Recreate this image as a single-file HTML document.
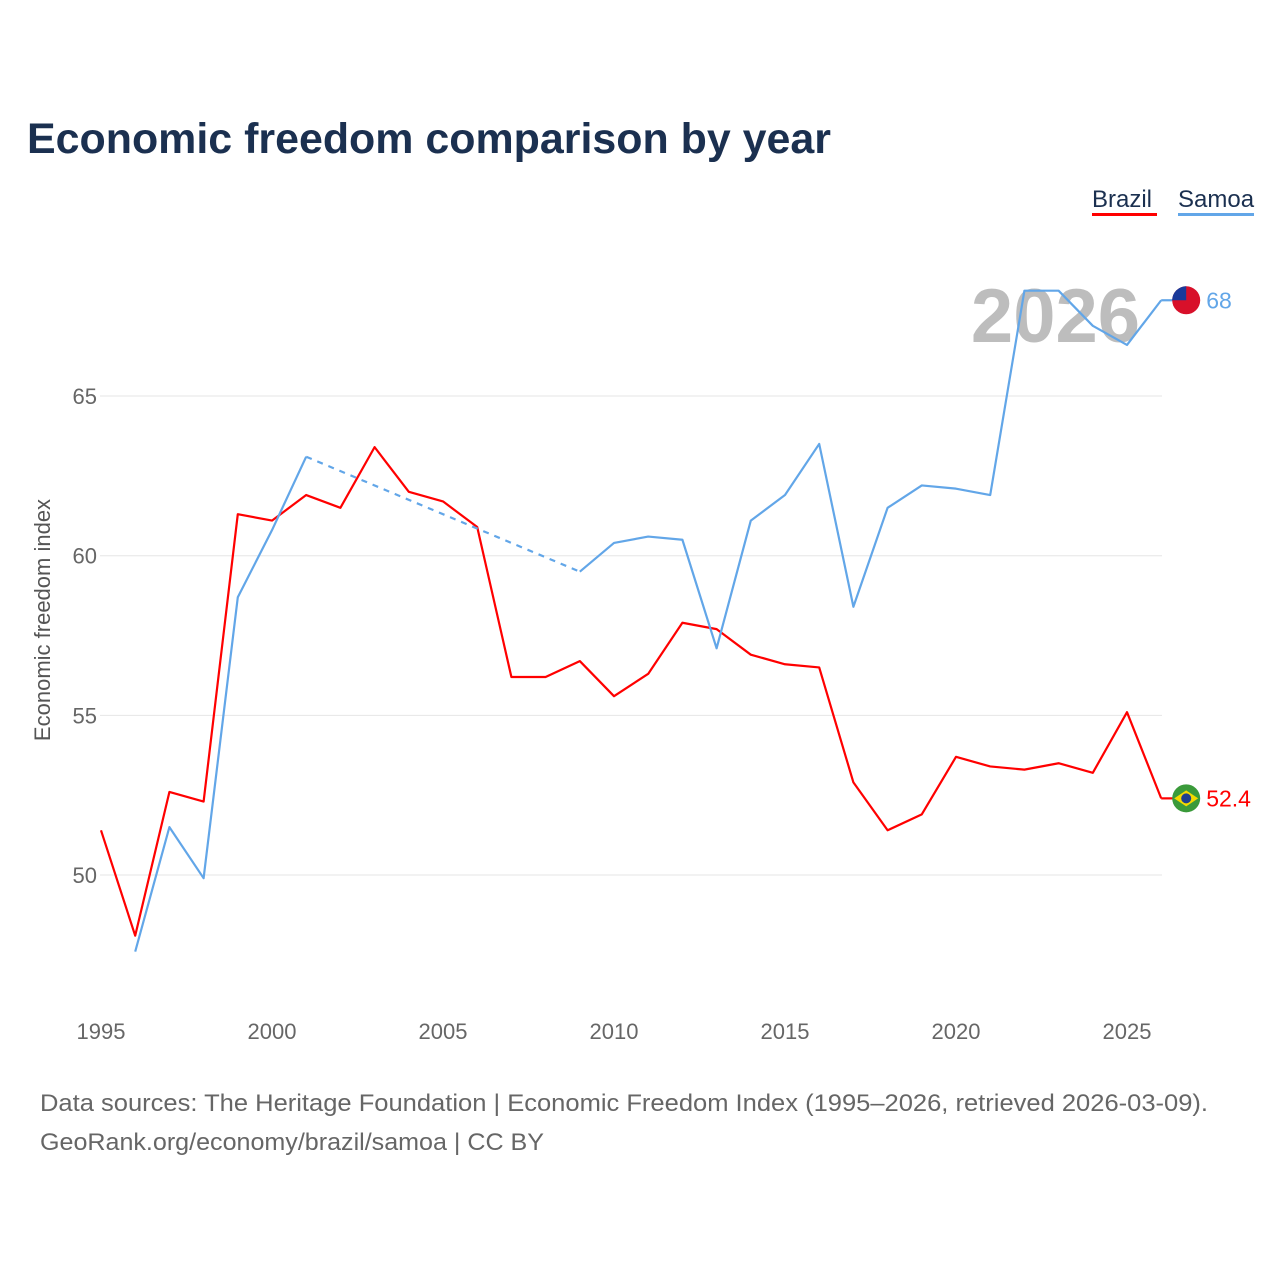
<!DOCTYPE html>
<html><head><meta charset="utf-8"><style>
body{margin:0;background:#fff;font-family:"Liberation Sans",sans-serif;}
</style></head><body>
<svg width="1280" height="1280" xmlns="http://www.w3.org/2000/svg" font-family="Liberation Sans, sans-serif">
<text x="27" y="153" font-size="43" font-weight="bold" fill="#1b3050" textLength="804" lengthAdjust="spacingAndGlyphs">Economic freedom comparison by year</text>
<g>
<text x="1092" y="207" font-size="24" fill="#1b3050">Brazil</text>
<rect x="1092" y="213" width="65" height="3" fill="#ff0000"/>
<text x="1178" y="207" font-size="24" fill="#1b3050">Samoa</text>
<rect x="1178" y="213" width="76" height="3" fill="#62a6e8"/>
</g>
<text x="1140" y="342" font-size="76" font-weight="bold" fill="#bdbdbd" text-anchor="end">2026</text>
<text transform="translate(50,620) rotate(-90)" font-size="22" fill="#555" text-anchor="middle">Economic freedom index</text>
<g id="grid"></g><g id="xt"></g><g id="lines"></g>
<text x="40" y="1111" font-size="24" fill="#666" textLength="1168" lengthAdjust="spacingAndGlyphs">Data sources: The Heritage Foundation | Economic Freedom Index (1995–2026, retrieved 2026-03-09).</text>
<text x="40" y="1150" font-size="24" fill="#666" textLength="504" lengthAdjust="spacingAndGlyphs">GeoRank.org/economy/brazil/samoa | CC BY</text>
</svg>
<script>
const years=[1995,1996,1997,1998,1999,2000,2001,2002,2003,2004,2005,2006,2007,2008,2009,2010,2011,2012,2013,2014,2015,2016,2017,2018,2019,2020,2021,2022,2023,2024,2025,2026];
const brazil=[51.4,48.1,52.6,52.3,61.3,61.1,61.9,61.5,63.4,62.0,61.7,60.9,56.2,56.2,56.7,55.6,56.3,57.9,57.7,56.9,56.6,56.5,52.9,51.4,51.9,53.7,53.4,53.3,53.5,53.2,55.1,52.4];
const samoa=[null,47.6,51.5,49.9,58.7,60.8,63.1,null,null,null,null,null,null,null,59.5,60.4,60.6,60.5,57.1,61.1,61.9,63.5,58.4,61.5,62.2,62.1,61.9,68.3,68.3,67.2,66.6,68.0];
const yTicks=[50,55,60,65];
const xTicks=[1995,2000,2005,2010,2015,2020,2025];
const NS="http://www.w3.org/2000/svg";
const X=y=>101+(y-1995)*34.2, Y=v=>875-(v-50)*31.93;
function mk(t,a,p){const e=document.createElementNS(NS,t);for(const k in a)e.setAttribute(k,a[k]);p.appendChild(e);return e;}
const g=document.getElementById('grid');
yTicks.forEach(v=>{const l=mk('line',{x1:100,x2:1162,y1:Y(v),y2:Y(v),stroke:'#e6e6e6'},g);


const t=mk('text',{x:97,y:Y(v)+8,'font-size':22,fill:'#666','text-anchor':'end'},g);t.textContent=v;

});
const xt=document.getElementById('xt');
xTicks.forEach(v=>{const t=mk('text',{x:X(v),y:1039,'font-size':22,fill:'#666','text-anchor':'middle'},xt);t.textContent=v;

});
const L=document.getElementById('lines');
function seg(vals,col,name){let d='',pen=false;vals.forEach((v,i)=>{if(v==null){pen=false;return;}d+=(pen?'L':'M')+X(years[i])+','+Y(v);pen=true;});
const p=mk('path',{d,fill:'none',stroke:col,'stroke-width':2.2,'stroke-linejoin':'round'},L);


let last=-1;vals.forEach((v,i)=>{if(v!=null){if(last>=0&&i-last>1){const q=mk('line',{x1:X(years[last]),y1:Y(vals[last]),x2:X(years[i]),y2:Y(v),stroke:col,'stroke-width':2.2,'stroke-dasharray':'6,6'},L);

}last=i;}});
const li=vals.length-1,lv=vals[li];
mk('line',{x1:X(years[li]),y1:Y(lv),x2:X(years[li])+12,y2:Y(lv),stroke:col,'stroke-width':2.2},L);
const c=mk('circle',{cx:X(years[li])+25,cy:Y(lv),r:14,fill:name==='brazil'?'#3a9a3a':'#d8102a'},L);


if(name==='brazil'){mk('path',{d:`M${X(years[li])+13},${Y(lv)} L${X(years[li])+25},${Y(lv)-8} L${X(years[li])+37},${Y(lv)} L${X(years[li])+25},${Y(lv)+8}Z`,fill:'#f3d900'},L);mk('circle',{cx:X(years[li])+25,cy:Y(lv),r:5,fill:'#1d3f8f'},L);}
else{mk('path',{d:`M${X(years[li])+11},${Y(lv)} A14,14 0 0 1 ${X(years[li])+25},${Y(lv)-14} L${X(years[li])+25},${Y(lv)} Z`,fill:'#1a3a9a'},L);}
const t=mk('text',{x:X(years[li])+45,y:Y(lv)+8,'font-size':23,fill:col},L);t.textContent=lv;

}
seg(brazil,'#ff0000','brazil');
seg(samoa,'#62a6e8','samoa');
</script>
</body></html>
